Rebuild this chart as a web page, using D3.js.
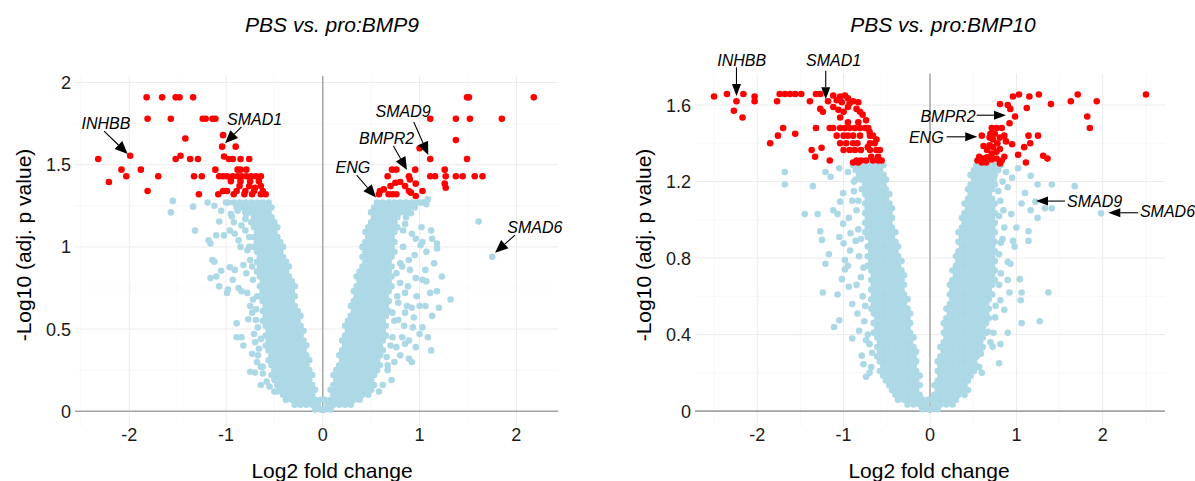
<!DOCTYPE html>
<html>
<head>
<meta charset="utf-8">
<script src="https://cdn.jsdelivr.net/npm/d3@7"></script>
<style>
  body { margin: 0; background: #fff; }
  svg { display: block; font-family: "Liberation Sans", Arial, sans-serif; }
</style>
</head>
<body>
<div id="chart"></div>
<script>
const width = 1195;
const height = 481;

//-------data-------//
const xTicks = [-2, -1, 0, 1, 2];
const xMinor = [-2.5, -1.5, -0.5, 0.5, 1.5, 2.5];
const bmp9YTicks = [0, 0.5, 1, 1.5, 2];
const bmp9YMinor = [0.25, 0.75, 1.25, 1.75];
const bmp10YTicks = [0, 0.4, 0.8, 1.2, 1.6];
const bmp10YMinor = [0.2, 0.6, 1.0, 1.4];

// dense non-significant body, one row per -log10 p level: [y, x, x, ...]
const bmp9Core = [
  [0.01, -0.08,-0.02,0.02,0.08],
  [0.04, -0.29,-0.23,-0.17,-0.11,-0.05,0.05,0.11,0.17,0.23,0.29],
  [0.07, -0.38,-0.32,-0.26,-0.20,-0.14,-0.08,-0.02,0.02,0.08,0.14,0.20,0.26,0.32,0.38],
  [0.10, -0.41,-0.35,-0.29,-0.23,-0.17,-0.11,0.11,0.17,0.23,0.29,0.35,0.41,0.47],
  [0.13, -0.44,-0.38,-0.32,-0.26,-0.20,-0.14,-0.08,0.08,0.14,0.20,0.26,0.32,0.38,0.44,0.50],
  [0.16, -0.47,-0.41,-0.35,-0.29,-0.23,-0.17,-0.11,0.11,0.17,0.23,0.29,0.35,0.41,0.47,0.53],
  [0.19, -0.50,-0.44,-0.38,-0.32,-0.26,-0.20,-0.14,0.14,0.20,0.26,0.32,0.38,0.44,0.50],
  [0.22, -0.53,-0.47,-0.41,-0.35,-0.29,-0.23,-0.17,-0.11,0.11,0.17,0.23,0.29,0.35,0.41,0.47,0.53],
  [0.25, -0.50,-0.44,-0.38,-0.32,-0.26,-0.20,-0.14,0.14,0.20,0.26,0.32,0.38,0.44,0.50,0.56],
  [0.28, -0.53,-0.47,-0.41,-0.35,-0.29,-0.23,-0.17,0.17,0.23,0.29,0.35,0.41,0.47,0.53,0.59],
  [0.31, -0.56,-0.50,-0.44,-0.38,-0.32,-0.26,-0.20,-0.14,0.20,0.26,0.32,0.38,0.44,0.50,0.56],
  [0.34, -0.53,-0.47,-0.41,-0.35,-0.29,-0.23,-0.17,0.17,0.23,0.29,0.35,0.41,0.47,0.53,0.59],
  [0.37, -0.56,-0.50,-0.44,-0.38,-0.32,-0.26,-0.20,0.20,0.26,0.32,0.38,0.44,0.50,0.56,0.62],
  [0.40, -0.59,-0.53,-0.47,-0.41,-0.35,-0.29,-0.23,-0.17,0.23,0.29,0.35,0.41,0.47,0.53,0.59],
  [0.43, -0.56,-0.50,-0.44,-0.38,-0.32,-0.26,-0.20,0.20,0.26,0.32,0.38,0.44,0.50,0.56,0.62],
  [0.46, -0.59,-0.53,-0.47,-0.41,-0.35,-0.29,-0.23,0.23,0.29,0.35,0.41,0.47,0.53,0.59,0.65],
  [0.49, -0.56,-0.50,-0.44,-0.38,-0.32,-0.26,-0.20,0.26,0.32,0.38,0.44,0.50,0.56,0.62],
  [0.52, -0.59,-0.53,-0.47,-0.41,-0.35,-0.29,-0.23,0.23,0.29,0.35,0.41,0.47,0.53,0.59,0.65],
  [0.55, -0.62,-0.56,-0.50,-0.44,-0.38,-0.32,-0.26,0.26,0.32,0.38,0.44,0.50,0.56,0.62],
  [0.58, -0.59,-0.53,-0.47,-0.41,-0.35,-0.29,-0.23,0.29,0.35,0.41,0.47,0.53,0.59,0.65],
  [0.61, -0.62,-0.56,-0.50,-0.44,-0.38,-0.32,-0.26,0.32,0.38,0.44,0.50,0.56,0.62,0.68],
  [0.64, -0.59,-0.53,-0.47,-0.41,-0.35,-0.29,0.29,0.35,0.41,0.47,0.53,0.59,0.65],
  [0.67, -0.62,-0.56,-0.50,-0.44,-0.38,-0.32,0.32,0.38,0.44,0.50,0.56,0.62,0.68],
  [0.70, -0.65,-0.59,-0.53,-0.47,-0.41,-0.35,-0.29,0.35,0.41,0.47,0.53,0.59,0.65],
  [0.73, -0.62,-0.56,-0.50,-0.44,-0.38,-0.32,0.32,0.38,0.44,0.50,0.56,0.62,0.68],
  [0.76, -0.65,-0.59,-0.53,-0.47,-0.41,-0.35,-0.29,0.35,0.41,0.47,0.53,0.59,0.65,0.71],
  [0.79, -0.62,-0.56,-0.50,-0.44,-0.38,-0.32,0.38,0.44,0.50,0.56,0.62,0.68],
  [0.82, -0.65,-0.59,-0.53,-0.47,-0.41,-0.35,0.35,0.41,0.47,0.53,0.59,0.65,0.71],
  [0.85, -0.68,-0.62,-0.56,-0.50,-0.44,-0.38,0.38,0.44,0.50,0.56,0.62,0.68],
  [0.88, -0.65,-0.59,-0.53,-0.47,-0.41,-0.35,0.41,0.47,0.53,0.59,0.65,0.71],
  [0.91, -0.68,-0.62,-0.56,-0.50,-0.44,-0.38,0.44,0.50,0.56,0.62,0.68],
  [0.94, -0.65,-0.59,-0.53,-0.47,-0.41,0.41,0.47,0.53,0.59,0.65,0.71],
  [0.97, -0.68,-0.62,-0.56,-0.50,-0.44,0.44,0.50,0.56,0.62,0.68,0.74],
  [1.00, -0.71,-0.65,-0.59,-0.53,-0.47,-0.41,0.41,0.47,0.53,0.59,0.65,0.71],
  [1.03, -0.68,-0.62,-0.56,-0.50,-0.44,0.44,0.50,0.56,0.62,0.68,0.74],
  [1.06, -0.71,-0.65,-0.59,-0.53,-0.47,0.47,0.53,0.59,0.65,0.71],
  [1.09, -0.68,-0.62,-0.56,-0.50,0.44,0.50,0.56,0.62,0.68,0.74],
  [1.12, -0.71,-0.65,-0.59,-0.53,-0.47,0.47,0.53,0.59,0.65,0.71,0.77],
  [1.15, -0.74,-0.68,-0.62,-0.56,-0.50,0.50,0.56,0.62,0.68,0.74],
  [1.18, -0.71,-0.65,-0.59,-0.53,0.53,0.59,0.65,0.71,0.77],
  [1.21, -0.80,-0.74,-0.68,-0.62,-0.56,0.50,0.56,0.62,0.68,0.74,0.80,0.86],
  [1.24, -0.89,-0.83,-0.77,-0.71,-0.65,-0.59,-0.53,0.53,0.59,0.65,0.71,0.77,0.83,0.89,0.95],
  [1.27, -0.98,-0.92,-0.86,-0.80,-0.74,-0.68,-0.62,-0.56,0.56,0.62,0.68,0.74,0.80,0.86,0.92,0.98,1.04]
];

// scattered non-significant genes [log2FC, -log10 adj p]
const bmp9Blue = [
  [-1.55,1.28],[-1.57,1.21],[-1.34,1.245],[-1.32,1.10],[-1.19,1.27],[-1.07,1.155],[-1.18,1.04],[-1.16,1.02],
  [-1.10,1.07],[-1.02,1.07],[-1.14,0.92],[-1.12,0.91],[-1.16,0.81],[-1.10,0.82],[-1.07,0.76],[-0.98,0.74],
  [-0.99,0.72],[-0.89,0.535],[-0.89,0.45],[-0.84,0.45],[-0.82,0.40],[-0.75,0.24],[-0.70,0.235],[-0.62,0.23],
  [-0.50,0.12],[-0.47,0.12],[-1.05,0.855],[-0.96,0.876],[-0.91,0.86],[-0.93,0.80],[-0.87,0.75],[-0.84,0.73],
  [-0.78,0.72],[-0.75,0.64],[-0.73,0.60],[-0.69,0.555],[-0.67,0.51],[-0.71,0.47],[-0.73,0.35],[-0.67,0.34],
  [-0.94,1.185],[-0.91,1.08],[-0.87,1.04],[-0.85,1.00],[-0.80,1.10],[-0.76,1.06],[-0.78,0.98],[-0.75,0.92],
  [-0.73,0.88],[-0.82,0.89],[-1.05,1.22],[-1.12,1.25],[-1.00,1.27],[-0.95,1.20],[-0.92,1.15],[-0.88,1.22],
  [-0.96,1.10],[-0.84,1.13],[-0.80,1.17],[-0.79,0.84],[-0.72,0.68],[-0.77,0.56],[-0.70,0.42],[-0.68,0.30],
  [-0.64,0.27],[-0.58,0.18],[-0.55,0.15],[-0.64,0.16],[-0.66,0.38],[-0.69,0.62],[-0.72,0.80],[-0.76,1.00],
  [-0.79,1.20],[-0.81,1.25],[-0.62,0.27],[-0.64,0.44],[-0.68,0.70],
  [1.12,1.10],[1.13,1.05],[1.02,1.12],[0.96,1.05],[1.03,1.03],[1.07,0.97],[1.01,1.01],[1.18,1.02],
  [1.18,0.99],[1.23,0.82],[1.32,0.68],[1.20,0.63],[1.13,0.58],[1.12,0.37],[1.18,0.73],[1.11,0.72],
  [1.03,0.80],[1.07,0.79],[0.96,0.81],[1.00,0.64],[1.06,0.64],[0.92,0.63],[0.93,0.51],[0.85,0.41],
  [0.89,0.43],[0.92,0.30],[0.89,0.32],[0.80,0.34],[0.87,0.64],[0.85,0.60],[0.71,0.19],[0.58,0.12],
  [0.67,0.25],[0.67,0.28],[1.085,1.29],[1.01,1.27],[0.91,1.205],[0.85,1.14],[0.92,1.08],[0.83,1.00],
  [0.89,0.92],[0.82,0.88],[0.85,0.72],[0.78,0.555],[0.82,0.45],[0.76,0.39],[1.03,0.51],[1.00,0.47],
  [1.085,0.45],[0.96,0.39],[1.61,1.155],[1.75,0.94],[1.07,1.26],[0.95,0.95],[0.90,0.86],[0.80,0.78],
  [0.88,0.76],[0.97,0.70],[0.94,0.57],[1.06,0.86],[1.15,0.90],[0.78,0.66],[0.84,0.52],[0.72,0.45],[0.74,0.30],
  [0.70,0.40],[0.74,0.55],[0.77,0.70],[0.80,0.90],[0.83,1.10],[0.86,1.18],[0.62,0.16],[0.66,0.33],
  [0.72,0.60],[0.76,0.84]
];

// significant genes (adj. p < 0.05)
const bmp9Red = [
  [-1.82,1.91],[-1.66,1.91],[-1.52,1.91],[-1.48,1.91],[-1.34,1.91],
  [-1.81,1.78],[-1.57,1.78],[-1.24,1.78],[-1.21,1.78],[-1.14,1.78],[-1.11,1.78],
  [-1.42,1.66],[-1.03,1.68],[-1.04,1.61],[-0.90,1.61],[-1.99,1.555],[-1.47,1.555],
  [-2.32,1.535],[-1.52,1.535],[-1.37,1.535],[-1.29,1.535],[-1.02,1.55],[-0.97,1.535],[-0.93,1.535],[-0.85,1.535],[-0.76,1.535],
  [-2.08,1.47],[-1.88,1.47],[-1.11,1.47],[-0.88,1.47],[-0.85,1.47],[-0.79,1.47],
  [-2.03,1.43],[-1.70,1.43],[-1.33,1.43],[-1.25,1.43],[-1.07,1.43],[-1.03,1.43],[-0.99,1.43],[-0.93,1.43],
  [-0.88,1.43],[-0.84,1.43],[-0.79,1.43],[-0.74,1.43],[-0.69,1.43],[-0.64,1.43],
  [-2.21,1.395],[-0.95,1.40],[-0.85,1.40],[-0.75,1.40],[-0.66,1.40],
  [-0.86,1.37],[-0.76,1.37],[-0.64,1.37],[-0.70,1.36],
  [-1.81,1.34],[-1.03,1.34],[-0.99,1.34],[-0.89,1.34],[-0.80,1.34],[-0.71,1.34],[-0.62,1.34],
  [-1.28,1.32],[-1.08,1.32],[-0.92,1.32],[-0.81,1.32],[-0.73,1.32],[-0.64,1.32],[-0.59,1.32],
  [1.49,1.91],[1.51,1.91],[2.18,1.91],[1.11,1.78],[1.375,1.78],[1.52,1.78],[1.85,1.78],
  [1.375,1.65],[1.00,1.60],[1.11,1.535],[1.49,1.535],
  [0.715,1.47],[0.76,1.47],[0.955,1.47],[1.26,1.47],
  [0.67,1.43],[0.89,1.43],[1.11,1.43],[1.16,1.43],[1.27,1.43],[1.375,1.43],[1.445,1.43],[1.57,1.43],[1.65,1.43],
  [0.75,1.39],[0.80,1.395],[0.90,1.41],[0.96,1.385],[1.26,1.385],
  [1.27,1.36],[0.59,1.34],[0.63,1.35],[0.89,1.34],[1.03,1.34],[0.85,1.37],[0.70,1.37],
  [0.58,1.32],[0.68,1.32],[0.72,1.32],[0.76,1.32],[0.91,1.33],[0.96,1.31]
];

// gene labels: text at (tx, ty), arrow from (ax, ay) to (bx, by), data units
const bmp9Labels = [
  { gene: "INHBB", tx: -2.24, ty: 1.72, ax: -2.26, ay: 1.705, bx: -2.015, by: 1.565 },
  { gene: "SMAD1", tx: -0.705, ty: 1.742, ax: -0.84, ay: 1.73, bx: -1.01, by: 1.63 },
  { gene: "SMAD9", tx: 0.83, ty: 1.79, ax: 0.94, ay: 1.76, bx: 1.09, by: 1.56 },
  { gene: "BMPR2", tx: 0.66, ty: 1.626, ax: 0.73, ay: 1.614, bx: 0.87, by: 1.468 },
  { gene: "ENG", tx: 0.31, ty: 1.45, ax: 0.35, ay: 1.437, bx: 0.55, by: 1.30 },
  { gene: "SMAD6", tx: 2.19, ty: 1.086, ax: 1.985, ay: 1.072, bx: 1.78, by: 0.964 }
];

const bmp10Core = [
  [0.01, -0.09,-0.02,0.02,0.09],
  [0.035, -0.26,-0.19,-0.12,-0.05,0.05,0.12,0.19,0.26],
  [0.06, -0.37,-0.30,-0.23,-0.16,-0.09,-0.02,0.02,0.09,0.16,0.23,0.30],
  [0.085, -0.40,-0.33,-0.26,-0.19,-0.12,0.05,0.12,0.19,0.26,0.33,0.40],
  [0.11, -0.44,-0.37,-0.30,-0.23,-0.16,0.09,0.16,0.23,0.30,0.37,0.44],
  [0.135, -0.47,-0.40,-0.33,-0.26,-0.19,-0.12,0.05,0.12,0.19,0.26,0.33,0.40],
  [0.16, -0.51,-0.44,-0.37,-0.30,-0.23,-0.16,0.09,0.16,0.23,0.30,0.37,0.44],
  [0.185, -0.54,-0.47,-0.40,-0.33,-0.26,-0.19,-0.12,0.12,0.19,0.26,0.33,0.40,0.47],
  [0.21, -0.58,-0.51,-0.44,-0.37,-0.30,-0.23,-0.16,0.09,0.16,0.23,0.30,0.37,0.44,0.51],
  [0.235, -0.54,-0.47,-0.40,-0.33,-0.26,-0.19,0.12,0.19,0.26,0.33,0.40,0.47,0.54],
  [0.26, -0.58,-0.51,-0.44,-0.37,-0.30,-0.23,-0.16,0.09,0.16,0.23,0.30,0.37,0.44,0.51],
  [0.285, -0.61,-0.54,-0.47,-0.40,-0.33,-0.26,-0.19,0.12,0.19,0.26,0.33,0.40,0.47,0.54],
  [0.31, -0.58,-0.51,-0.44,-0.37,-0.30,-0.23,-0.16,0.16,0.23,0.30,0.37,0.44,0.51,0.58],
  [0.335, -0.61,-0.54,-0.47,-0.40,-0.33,-0.26,-0.19,0.12,0.19,0.26,0.33,0.40,0.47,0.54,0.61],
  [0.36, -0.58,-0.51,-0.44,-0.37,-0.30,-0.23,0.16,0.23,0.30,0.37,0.44,0.51,0.58],
  [0.385, -0.61,-0.54,-0.47,-0.40,-0.33,-0.26,-0.19,0.19,0.26,0.33,0.40,0.47,0.54,0.61],
  [0.41, -0.65,-0.58,-0.51,-0.44,-0.37,-0.30,-0.23,0.16,0.23,0.30,0.37,0.44,0.51,0.58,0.65],
  [0.435, -0.61,-0.54,-0.47,-0.40,-0.33,-0.26,0.19,0.26,0.33,0.40,0.47,0.54,0.61],
  [0.46, -0.65,-0.58,-0.51,-0.44,-0.37,-0.30,-0.23,0.16,0.23,0.30,0.37,0.44,0.51,0.58,0.65],
  [0.485, -0.61,-0.54,-0.47,-0.40,-0.33,-0.26,0.19,0.26,0.33,0.40,0.47,0.54,0.61,0.68],
  [0.51, -0.65,-0.58,-0.51,-0.44,-0.37,-0.30,-0.23,0.23,0.30,0.37,0.44,0.51,0.58,0.65],
  [0.535, -0.68,-0.61,-0.54,-0.47,-0.40,-0.33,-0.26,0.19,0.26,0.33,0.40,0.47,0.54,0.61,0.68],
  [0.56, -0.65,-0.58,-0.51,-0.44,-0.37,-0.30,0.23,0.30,0.37,0.44,0.51,0.58,0.65],
  [0.585, -0.68,-0.61,-0.54,-0.47,-0.40,-0.33,-0.26,0.26,0.33,0.40,0.47,0.54,0.61,0.68],
  [0.61, -0.65,-0.58,-0.51,-0.44,-0.37,-0.30,0.23,0.30,0.37,0.44,0.51,0.58,0.65,0.72],
  [0.635, -0.68,-0.61,-0.54,-0.47,-0.40,-0.33,0.26,0.33,0.40,0.47,0.54,0.61,0.68],
  [0.66, -0.65,-0.58,-0.51,-0.44,-0.37,-0.30,0.23,0.30,0.37,0.44,0.51,0.58,0.65,0.72],
  [0.685, -0.68,-0.61,-0.54,-0.47,-0.40,-0.33,0.26,0.33,0.40,0.47,0.54,0.61,0.68,0.75],
  [0.71, -0.65,-0.58,-0.51,-0.44,-0.37,-0.30,0.30,0.37,0.44,0.51,0.58,0.65,0.72],
  [0.735, -0.68,-0.61,-0.54,-0.47,-0.40,-0.33,0.26,0.33,0.40,0.47,0.54,0.61,0.68,0.75],
  [0.76, -0.72,-0.65,-0.58,-0.51,-0.44,-0.37,0.30,0.37,0.44,0.51,0.58,0.65,0.72],
  [0.785, -0.68,-0.61,-0.54,-0.47,-0.40,-0.33,0.33,0.40,0.47,0.54,0.61,0.68,0.75],
  [0.81, -0.72,-0.65,-0.58,-0.51,-0.44,-0.37,0.30,0.37,0.44,0.51,0.58,0.65,0.72],
  [0.835, -0.68,-0.61,-0.54,-0.47,-0.40,0.33,0.40,0.47,0.54,0.61,0.68,0.75],
  [0.86, -0.72,-0.65,-0.58,-0.51,-0.44,-0.37,0.37,0.44,0.51,0.58,0.65,0.72],
  [0.885, -0.68,-0.61,-0.54,-0.47,-0.40,0.33,0.40,0.47,0.54,0.61,0.68,0.75],
  [0.91, -0.72,-0.65,-0.58,-0.51,-0.44,0.37,0.44,0.51,0.58,0.65,0.72],
  [0.935, -0.75,-0.68,-0.61,-0.54,-0.47,-0.40,0.33,0.40,0.47,0.54,0.61,0.68,0.75],
  [0.96, -0.72,-0.65,-0.58,-0.51,-0.44,0.37,0.44,0.51,0.58,0.65,0.72],
  [0.985, -0.75,-0.68,-0.61,-0.54,-0.47,0.40,0.47,0.54,0.61,0.68,0.75],
  [1.01, -0.72,-0.65,-0.58,-0.51,-0.44,0.37,0.44,0.51,0.58,0.65,0.72],
  [1.035, -0.75,-0.68,-0.61,-0.54,-0.47,0.40,0.47,0.54,0.61,0.68,0.75],
  [1.06, -0.72,-0.65,-0.58,-0.51,-0.44,0.44,0.51,0.58,0.65,0.72],
  [1.085, -0.75,-0.68,-0.61,-0.54,-0.47,0.40,0.47,0.54,0.61,0.68,0.75],
  [1.11, -0.72,-0.65,-0.58,-0.51,0.44,0.51,0.58,0.65,0.72],
  [1.135, -0.75,-0.68,-0.61,-0.54,-0.47,0.47,0.54,0.61,0.68],
  [1.16, -0.79,-0.72,-0.65,-0.58,-0.51,0.44,0.51,0.58,0.65,0.72],
  [1.185, -0.75,-0.68,-0.61,-0.54,0.47,0.54,0.61,0.68,0.75],
  [1.21, -0.79,-0.72,-0.65,-0.58,-0.51,0.51,0.58,0.65,0.72],
  [1.235, -0.82,-0.75,-0.68,-0.61,-0.54,0.47,0.54,0.61,0.68,0.75],
  [1.26, -0.86,-0.79,-0.72,-0.65,-0.58,0.51,0.58,0.65,0.72,0.79],
  [1.285, -0.89,-0.82,-0.75,-0.68,-0.61,-0.54,0.54,0.61,0.68,0.75,0.82]
];

const bmp10Blue = [
  [-1.68,1.25],[-1.68,1.185],[-1.355,1.176],[-1.45,1.03],[-1.30,1.03],[-1.27,0.94],[-1.25,0.895],[-1.17,0.82],
  [-1.21,0.77],[-1.24,0.62],[-1.07,0.61],[-1.02,0.69],[-1.11,0.44],[-1.05,0.475],[-0.90,0.38],[-0.79,0.29],
  [-0.77,0.245],[-0.67,0.305],[-1.21,1.25],[-1.15,1.225],[-1.005,1.14],[-1.04,1.095],[-1.12,1.05],[-1.07,1.03],
  [-1.005,0.98],[-0.94,1.01],[-1.05,0.91],[-0.90,1.10],[-0.88,1.20],[-0.985,0.79],[-0.985,0.74],[-0.95,0.76],
  [-1.0,0.877],[-0.925,0.84],[-0.86,0.89],[-0.82,0.81],[-0.90,0.56],[-0.84,0.51],[-0.94,0.65],[-0.82,0.42],
  [-0.74,0.37],[-0.68,0.23],[-0.74,0.18],[-0.95,1.25],[-1.05,1.27],[-0.85,1.05],[-0.83,0.95],[-0.80,0.70],
  [-0.78,0.60],[-0.85,0.66],[-0.76,0.47],[-0.70,0.35],[-0.88,1.15],[-0.92,0.93],
  [-0.70,0.20],[-0.72,0.40],[-0.75,0.55],[-0.77,0.75],[-0.80,0.90],[-0.83,1.10],[-0.86,1.21],
  [1.165,1.23],[1.245,1.185],[1.41,1.185],[1.675,1.176],[1.22,1.095],[1.165,1.05],[1.245,1.01],[1.33,1.06],
  [1.41,1.06],[1.98,1.034],[1.14,0.94],[1.14,0.89],[1.37,0.62],[1.06,0.46],[1.27,0.47],[1.05,0.58],
  [1.06,0.62],[1.04,0.69],[0.90,0.78],[0.93,0.77],[0.80,0.25],[0.815,0.35],[0.725,0.336],[0.57,0.23],
  [0.59,0.30],[0.67,0.415],[0.98,0.86],[0.96,0.89],[0.90,1.17],[0.735,1.21],[0.815,1.10],[0.94,1.03],
  [0.86,0.96],[1.0,0.96],[1.06,1.085],[1.10,1.14],[0.90,0.685],[0.815,0.58],[0.755,0.49],[0.86,0.53],
  [0.735,0.41],[0.90,0.41],[0.88,1.25],[0.95,1.22],[1.02,1.27],[0.84,0.90],[0.82,0.72],[0.80,0.82],
  [0.92,0.62],[0.85,1.05],[0.60,0.20],[0.70,0.36],[0.76,0.55],[0.80,0.66],[0.82,0.88],[0.80,1.02],
  [0.79,1.15],[0.84,1.20]
];

const bmp10Red = [
  [-2.50,1.645],[-2.35,1.658],[-2.16,1.658],[-2.24,1.62],[-2.03,1.645],[-2.03,1.62],[-2.27,1.57],[-2.17,1.535],
  [-1.77,1.62],[-1.74,1.658],[-1.68,1.658],[-1.62,1.658],[-1.56,1.658],[-1.49,1.658],[-1.39,1.62],[-1.32,1.658],
  [-1.27,1.658],[-1.12,1.65],[-1.04,1.645],[-0.985,1.65],[-0.95,1.635],[-1.18,1.62],[-1.08,1.625],[-1.02,1.615],
  [-0.89,1.62],[-0.83,1.615],[-0.93,1.61],[-1.27,1.58],[-1.24,1.565],[-1.12,1.59],[-1.06,1.575],[-1.00,1.565],
  [-0.95,1.59],[-0.85,1.58],[-0.81,1.565],[-1.04,1.535],[-0.95,1.51],[-0.83,1.51],
  [-1.70,1.48],[-1.56,1.45],[-1.76,1.44],[-1.85,1.40],[-1.32,1.48],[-1.16,1.48],
  [-1.12,1.48],[-1.04,1.48],[-0.985,1.48],[-0.93,1.48],[-0.87,1.48],[-0.81,1.48],[-0.75,1.48],[-0.715,1.48],
  [-1.08,1.44],[-1.00,1.44],[-0.95,1.44],[-0.89,1.44],[-0.81,1.44],[-0.695,1.44],[-0.66,1.44],
  [-1.04,1.40],[-0.97,1.40],[-0.89,1.40],[-0.84,1.40],[-0.695,1.40],[-0.64,1.40],
  [-1.37,1.365],[-1.255,1.377],[-1.33,1.33],[-1.16,1.31],
  [-1.00,1.365],[-0.93,1.365],[-0.87,1.365],[-0.80,1.365],[-0.695,1.365],[-0.62,1.365],[-0.58,1.365],
  [-0.85,1.31],[-0.80,1.31],[-0.74,1.31],[-0.66,1.31],[-0.60,1.31],[-0.56,1.31],[-0.89,1.30],[-0.83,1.30],
  [-0.78,1.55],[-0.74,1.52],[-0.70,1.46],[-0.62,1.42],[-0.68,1.33],[-0.72,1.38],[-0.60,1.33],
  [2.50,1.655],[1.71,1.655],[1.63,1.62],[1.93,1.62],[1.82,1.54],[1.85,1.48],
  [1.26,1.655],[1.15,1.645],[1.03,1.655],[0.96,1.645],[0.90,1.60],[0.93,1.58],[0.81,1.605],[1.40,1.605],
  [1.12,1.585],[0.985,1.54],[0.92,1.505],[0.715,1.48],[0.77,1.48],[0.83,1.48],[0.60,1.44],[0.70,1.45],
  [0.75,1.45],[0.86,1.44],[0.88,1.41],[1.14,1.44],[1.25,1.44],[1.16,1.40],[1.09,1.38],[0.95,1.395],
  [1.02,1.34],[1.11,1.30],[1.31,1.335],[1.36,1.32],
  [0.62,1.386],[0.69,1.39],[0.73,1.38],[0.78,1.40],[0.81,1.37],[0.66,1.365],[0.715,1.347],[0.77,1.356],
  [0.57,1.33],[0.62,1.32],[0.66,1.327],[0.715,1.316],[0.77,1.32],[0.83,1.31],[0.55,1.31],[0.60,1.30],
  [0.65,1.30],[0.81,1.295],[0.86,1.33],[0.73,1.42],[0.81,1.43],[0.69,1.43]
];

const bmp10Labels = [
  { gene: "INHBB", tx: -2.18, ty: 1.803, ax: -2.24, ay: 1.797, bx: -2.24, by: 1.647 },
  { gene: "SMAD1", tx: -1.115, ty: 1.803, ax: -1.207, ay: 1.78, bx: -1.207, by: 1.63 },
  { gene: "BMPR2", tx: 0.208, ty: 1.512, ax: 0.54, ay: 1.547, bx: 0.88, by: 1.547 },
  { gene: "ENG", tx: -0.043, ty: 1.403, ax: 0.193, ay: 1.434, bx: 0.547, by: 1.434 },
  { gene: "SMAD9", tx: 1.906, ty: 1.068, ax: 1.5625, ay: 1.098, bx: 1.227, by: 1.098 },
  { gene: "SMAD6", tx: 2.43, ty: 1.0125, ax: 2.41, ay: 1.037, bx: 2.064, by: 1.037, anchor: "start" }
];

//-------panel setup-------//
const panels = [
  {
    title: "PBS vs. pro:BMP9", core: bmp9Core, blue: bmp9Blue, red: bmp9Red, labels: bmp9Labels,
    yTicks: bmp9YTicks, yMinor: bmp9YMinor, xDomain: [-2.56, 2.43], yDomain: [-0.096, 2.04],
    left: 75, right: 558, top: 76, bottom: 427, titleX: 332, xLabelX: 332, yLabelX: 31,
    headLen: 13, headW: 5.5
  },
  {
    title: "PBS vs. pro:BMP10", core: bmp10Core, blue: bmp10Blue, red: bmp10Red, labels: bmp10Labels,
    yTicks: bmp10YTicks, yMinor: bmp10YMinor, xDomain: [-2.72, 2.72], yDomain: [-0.083, 1.765],
    left: 695, right: 1165, top: 73.5, bottom: 427, titleX: 943, xLabelX: 929, yLabelX: 651,
    headLen: 12, headW: 4.5
  }
];

const dotR = 3.3;

const svg = d3
  .select("#chart")
  .append("svg")
  .attr("width", width)
  .attr("height", height);

panels.forEach((p) => {
  const x = d3.scaleLinear().domain(p.xDomain).range([p.left, p.right]);
  const y = d3.scaleLinear().domain(p.yDomain).range([p.bottom, p.top]);
  const g = svg.append("g");

  //--grid--//
  const grid = g.append("g");
  grid.selectAll(".vminor")
    .data(xMinor.filter((d) => d > p.xDomain[0] && d < p.xDomain[1]))
    .join("line")
    .attr("x1", (d) => x(d)).attr("x2", (d) => x(d))
    .attr("y1", p.top).attr("y2", p.bottom)
    .attr("stroke", "#f3f3f3").attr("stroke-width", 0.6);
  grid.selectAll(".hminor")
    .data(p.yMinor)
    .join("line")
    .attr("x1", p.left).attr("x2", p.right)
    .attr("y1", (d) => y(d)).attr("y2", (d) => y(d))
    .attr("stroke", "#f3f3f3").attr("stroke-width", 0.6);
  grid.selectAll(".vmajor")
    .data(xTicks)
    .join("line")
    .attr("x1", (d) => x(d)).attr("x2", (d) => x(d))
    .attr("y1", p.top).attr("y2", p.bottom)
    .attr("stroke", "#ebebeb").attr("stroke-width", 1);
  grid.selectAll(".hmajor")
    .data(p.yTicks)
    .join("line")
    .attr("x1", p.left).attr("x2", p.right)
    .attr("y1", (d) => y(d)).attr("y2", (d) => y(d))
    .attr("stroke", "#ebebeb").attr("stroke-width", 1);

  //--zero lines--//
  g.append("line")
    .attr("x1", p.left).attr("x2", p.right)
    .attr("y1", y(0)).attr("y2", y(0))
    .attr("stroke", "#a3a3a3").attr("stroke-width", 1.6);
  g.append("line")
    .attr("x1", x(0)).attr("x2", x(0))
    .attr("y1", p.top).attr("y2", p.bottom - 14)
    .attr("stroke", "#9a9a9a").attr("stroke-width", 1.3);

  //--points--//
  const body = p.core.flatMap((r) => r.slice(1).map((v) => [v, r[0]]));
  const pts = g.append("g");
  pts.selectAll(".core")
    .data(body)
    .join("circle")
    .attr("cx", (d) => x(d[0])).attr("cy", (d) => y(d[1]))
    .attr("r", dotR).attr("fill", "#add8e6");
  pts.selectAll(".ns")
    .data(p.blue)
    .join("circle")
    .attr("cx", (d) => x(d[0])).attr("cy", (d) => y(d[1]))
    .attr("r", dotR).attr("fill", "#add8e6");
  pts.selectAll(".sig")
    .data(p.red)
    .join("circle")
    .attr("cx", (d) => x(d[0])).attr("cy", (d) => y(d[1]))
    .attr("r", dotR).attr("fill", "#ff0000");

  //--tick labels--//
  g.selectAll(".xt")
    .data(xTicks)
    .join("text")
    .attr("x", (d) => x(d)).attr("y", p.bottom + 14)
    .attr("text-anchor", "middle")
    .attr("font-size", 18).attr("fill", "#1a1a1a")
    .text((d) => d);
  g.selectAll(".yt")
    .data(p.yTicks)
    .join("text")
    .attr("x", p.left - 4).attr("y", (d) => y(d))
    .attr("dy", "0.36em")
    .attr("text-anchor", "end")
    .attr("font-size", 18).attr("fill", "#1a1a1a")
    .text((d) => d);

  //--titles--//
  g.append("text")
    .attr("x", p.titleX).attr("y", 32)
    .attr("text-anchor", "middle")
    .attr("font-size", 21).attr("font-style", "italic")
    .text(p.title);
  g.append("text")
    .attr("x", p.xLabelX).attr("y", 478)
    .attr("text-anchor", "middle")
    .attr("font-size", 21)
    .text("Log2 fold change");
  g.append("text")
    .attr("transform", `translate(${p.yLabelX},245) rotate(-90)`)
    .attr("text-anchor", "middle")
    .attr("font-size", 21)
    .text("-Log10 (adj. p value)");

  //--gene labels with arrows--//
  const ann = g.append("g");
  p.labels.forEach((d) => {
    const x0 = x(d.ax), y0 = y(d.ay), x1 = x(d.bx), y1 = y(d.by);
    const len = Math.hypot(x1 - x0, y1 - y0);
    const ux = (x1 - x0) / len, uy = (y1 - y0) / len;
    const bxp = x1 - ux * p.headLen, byp = y1 - uy * p.headLen;
    ann.append("line")
      .attr("x1", x0).attr("y1", y0).attr("x2", bxp).attr("y2", byp)
      .attr("stroke", "#000").attr("stroke-width", 1.1);
    ann.append("path")
      .attr("d", `M${x1},${y1}L${bxp - uy * p.headW},${byp + ux * p.headW}L${bxp + uy * p.headW},${byp - ux * p.headW}Z`)
      .attr("fill", "#000");
    ann.append("text")
      .attr("x", x(d.tx)).attr("y", y(d.ty))
      .attr("text-anchor", d.anchor || "middle")
      .attr("font-size", 16).attr("font-style", "italic")
      .text(d.gene);
  });
});
</script>
</body>
</html>
